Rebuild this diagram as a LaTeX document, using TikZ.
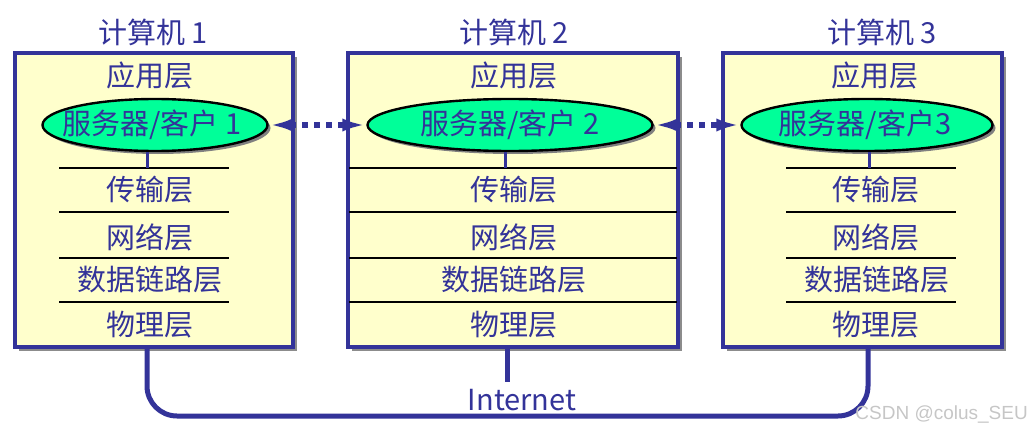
\documentclass[tikz,border=0pt]{standalone}
\usepackage{fontspec}
\setmainfont{Noto Sans CJK SC}
\newfontfamily\wmfont{Liberation Sans}
\usetikzlibrary{shadows,arrows.meta,shapes.geometric}
\definecolor{navy}{HTML}{333399}
\definecolor{boxfill}{HTML}{FFFFCC}
\definecolor{ellfill}{HTML}{00FF99}
\tikzset{
  lbl/.style={text=navy,font=\fontsize{29}{32}\selectfont,inner sep=0pt},
  hostbox/.style={draw=navy,line width=3.5pt,fill=boxfill,inner sep=0pt,
    drop shadow={shadow xshift=4pt,shadow yshift=-4pt,fill=gray!90,opacity=1}},
  proc/.style={ellipse,draw=black,line width=2.4pt,fill=ellfill,inner sep=0pt,
    minimum height=52pt,
    drop shadow={shadow xshift=3pt,shadow yshift=-3pt,fill=gray,opacity=1}},
  sep/.style={draw=black,line width=2pt},
  stub/.style={draw=navy,line width=3pt},
  dotarrow/.style={draw=navy,line width=5pt,dash pattern=on 6pt off 6pt,
    {Latex[length=24pt,width=13pt]}-{Latex[length=24pt,width=13pt]}},
  net/.style={draw=navy,line width=5pt,rounded corners=30pt},
}
\begin{document}
\begin{tikzpicture}[x=1pt,y=-1pt]
\useasboundingbox (0,0) rectangle (1035,433);
% boxes
\node[hostbox,minimum width=278pt,minimum height=294pt] (b1) at (154,200) {};
\node[hostbox,minimum width=330pt,minimum height=294pt] (b2) at (513,200) {};
\node[hostbox,minimum width=279pt,minimum height=294pt] (b3) at (862.5,200) {};
% titles
\node[lbl] (t1) at (153,32) {计算机 1};
\node[lbl] (t2) at (514,32) {计算机 2};
\node[lbl] (t3) at (882,32) {计算机 3};
% application layer
\node[lbl] (a1) at (150,75) {应用层};
\node[lbl] (a2) at (514,75) {应用层};
\node[lbl] (a3) at (875,75) {应用层};
% ellipses
\node[proc,minimum width=225pt] (e1) at (155,125) {};
\node[proc,minimum width=285pt] (e2) at (510,125) {};
\node[proc,minimum width=251pt] (e3) at (867,125) {};
\node[lbl] (e1t) at (152,125) {服务器/客户 1};
\node[lbl] (e2t) at (510,125) {服务器/客户 2};
\node[lbl] (e3t) at (865,125) {服务器/客户3};
% separators
\foreach \y in {168,212,258,302}{
  \draw[sep] (59,\y) -- (229,\y);
  \draw[sep] (349,\y) -- (677,\y);
  \draw[sep] (786,\y) -- (956,\y);
}
% stubs from ellipses
\coordinate (s1) at (147,168);
\coordinate (s2) at (505,168);
\coordinate (s3) at (869,168);
\draw[stub] (e1.south -| s1) -- (s1);
\draw[stub] (e2.south -| s2) -- (s2);
\draw[stub] (e3.south -| s3) -- (s3);
% layers
\node[lbl] (tr1) at (150,190) {传输层};
\node[lbl] (tr2) at (514,190) {传输层};
\node[lbl] (tr3) at (876,190) {传输层};
\node[lbl] (nw1) at (150,237) {网络层};
\node[lbl] (nw2) at (514,237) {网络层};
\node[lbl] (nw3) at (876,237) {网络层};
\node[lbl] (dl1) at (150,280) {数据链路层};
\node[lbl] (dl2) at (514,280) {数据链路层};
\node[lbl] (dl3) at (877,280) {数据链路层};
\node[lbl] (ph1) at (150,325) {物理层};
\node[lbl] (ph2) at (514,325) {物理层};
\node[lbl] (ph3) at (876,325) {物理层};
% dotted arrows
\draw[dotarrow] (e1.east) -- (e2.west);
\draw[dotarrow] (e2.east) -- (e3.west);
% internet
\coordinate (p1) at (147,349);
\coordinate (p3) at (868,349);
\coordinate (q1) at (147,416);
\coordinate (q3) at (868,416);
\coordinate (p2) at (507,349);
\coordinate (q2) at (507,382);
\draw[net] (p1) -- (q1) -- (q3) -- (p3);
\draw[net] (p2) -- (q2);
\node[lbl] (inet) at (522,400) {Internet};
\node[text=gray!45,font=\wmfont\fontsize{19}{21}\selectfont,inner sep=0pt,anchor=east] (wm) at (1028,414) {CSDN @colus\_SEU};
\end{tikzpicture}
\end{document}
